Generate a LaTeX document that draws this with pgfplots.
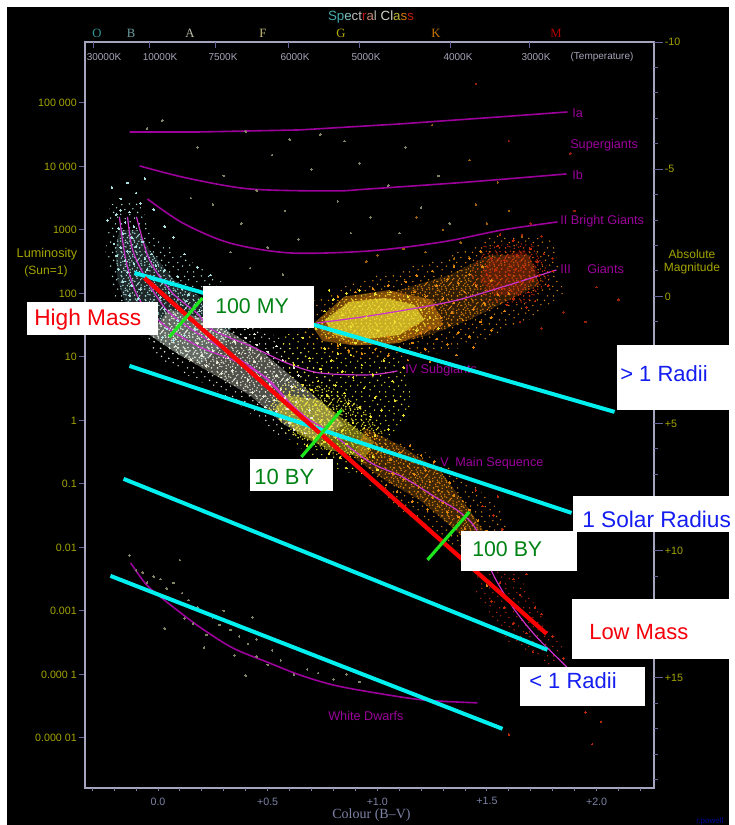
\documentclass[border=0pt]{standalone}
\usepackage{fontspec}
\setmainfont{Liberation Sans}
\newfontfamily\serif{Liberation Serif}
\usepackage{pgfplots}
\usetikzlibrary{patterns}
\pgfplotsset{compat=1.18}
\definecolor{panel}{RGB}{0,0,0}
\definecolor{framegray}{RGB}{165,165,190}
\definecolor{tickblue}{RGB}{100,100,150}
\definecolor{ylab}{RGB}{165,165,0}
\definecolor{xlab}{RGB}{125,130,165}
\definecolor{templab}{RGB}{165,165,185}
\definecolor{branch}{RGB}{155,0,155}
\definecolor{msline}{RGB}{205,50,205}
\definecolor{cyanline}{RGB}{0,240,240}
\definecolor{redline}{RGB}{250,0,0}
\definecolor{greenline}{RGB}{30,230,30}
\definecolor{labgreen}{RGB}{0,130,20}
\definecolor{labblue}{RGB}{20,30,240}
\definecolor{labred}{RGB}{245,0,10}
\definecolor{hotstar}{RGB}{170,225,225}
\definecolor{whitestar}{RGB}{232,232,215}
\definecolor{yelstar}{RGB}{235,225,50}
\definecolor{orstar}{RGB}{225,135,15}
\definecolor{redstar}{RGB}{190,40,10}
\definecolor{dimstar}{RGB}{130,130,100}
% stipple for the star clouds
\pgfdeclarepatternformonly{speckle}{\pgfpointorigin}{\pgfqpoint{18pt}{18pt}}{\pgfqpoint{18pt}{18pt}}{
  \foreach \x/\y in {1.2/0.8,4.6/1.7,7.9/0.5,11.3/1.4,15.2/0.9,2.8/3.6,6.1/4.3,9.7/3.2,13.4/3.9,16.9/3.1,0.6/6.2,4.2/6.8,7.6/6.1,11.0/6.6,14.7/6.0,2.3/9.1,5.8/8.9,9.2/9.4,12.7/8.8,16.4/9.3,1.0/11.6,4.4/12.0,8.0/11.5,11.5/12.1,15.0/11.4,2.9/14.3,6.4/14.8,9.8/14.1,13.3/14.6,17.0/14.2,0.9/16.7,4.9/16.9,8.2/16.4,11.9/17.0,15.5/16.6,3.1/2.0,12.9/2.0,6.9/10.2,14.2/10.6,10.4/8.0,1.9/13.0,16.3/7.4,7.2/13.0,13.0/16.0,5.4/5.4}{
    \pgfpathcircle{\pgfpoint{\x pt}{\y pt}}{0.6pt}
  }
  \pgfusepath{fill}
}
\pgfdeclarepatternformonly{sparse}{\pgfpointorigin}{\pgfqpoint{18pt}{18pt}}{\pgfqpoint{18pt}{18pt}}{
  \foreach \x/\y in {1.2/0.8,7.9/2.5,15.2/0.9,4.1/4.9,11.3/5.4,16.9/6.1,0.6/8.2,7.6/8.1,13.7/9.8,3.8/12.0,10.0/12.6,16.0/13.4,1.4/15.9,7.3/16.4,12.9/16.0}{
    \pgfpathcircle{\pgfpoint{\x pt}{\y pt}}{0.6pt}
  }
  \pgfusepath{fill}
}
\pgfplotsset{
  base/.style={scale only axis,width=426.75pt,height=559.5pt,at={(63.75pt,27.75pt)},anchor=south west,
    xmin=-0.333,xmax=2.262},
  stars/.style={only marks,mark=*,mark size=0.6pt,color=#1,mark options={solid,line width=0pt}},
  cloud/.style={draw=none,fill=#1},
  dense/.style={draw=none,pattern=speckle,pattern color=#1},
  loose/.style={draw=none,pattern=sparse,pattern color=#1},
}
\newcommand{\lab}[4]{\node[anchor=west,inner sep=0pt,text=#1,font=\fontsize{#2}{#2}\selectfont] at (#3) {#4};}
\begin{document}
\begin{tikzpicture}
\path[use as bounding box,fill=white] (0,0) rectangle (551.25pt,618.75pt);
\fill[panel] (5.25pt,0) rectangle (546.75pt,613.5pt);

% main axis: log10 luminosity against B-V
\begin{axis}[base,ymin=-5.79,ymax=5.96,
  axis line style={framegray,line width=0.8pt},
  ytick={-5,-4,-3,-2,-1,0,1,2,3,4,5},
  yticklabels={0.000 01,0.000 1,0.001,0.01,0.1,1,10,100,1000,10 000,100 000},
  ytick pos=left,tick align=outside,major tick length=4.5pt,
  ytick style={tickblue,line width=0.7pt},
  yticklabel style={text=ylab,font=\fontsize{8}{8}\selectfont,inner sep=1.5pt},
  xtick=\empty]
% outskirts of the star clouds
\addplot[loose=hotstar] coordinates {(-0.22,3.4)(-0.1,3.5)(-0.02,2.95)(0.1,2.6)(0.25,2.3)(0.35,2.0)(0.5,1.7)(0.3,1.0)(0.05,0.95)(-0.1,1.4)(-0.2,1.9)(-0.24,2.6)} --cycle;
\addplot[loose=whitestar] coordinates {(0.05,1.9)(0.25,1.85)(0.45,1.5)(0.65,1.1)(0.8,0.6)(0.95,0.1)(0.75,-0.45)(0.55,-0.25)(0.35,0.3)(0.2,0.6)(0.05,0.85)(-0.05,1.2)} --cycle;
\addplot[loose=yelstar] coordinates {(0.55,1.3)(0.7,1.5)(0.85,1.3)(1.1,1.0)(1.15,0.5)(1.15,0.1)(1.05,-0.3)(1.05,-0.7)(0.95,-0.9)(0.75,-0.7)(0.6,-0.3)(0.5,0.2)(0.6,0.7)} --cycle;
\addplot[loose=orstar] coordinates {(0.95,-0.1)(1.25,-0.55)(1.45,-1.05)(1.58,-1.5)(1.62,-2.3)(1.45,-2.3)(1.3,-1.85)(1.1,-1.4)(0.95,-1.0)} --cycle;
\addplot[loose=orstar] coordinates {(0.65,1.2)(0.7,1.9)(0.95,2.25)(1.3,2.55)(1.55,2.95)(1.8,2.85)(1.85,2.0)(1.7,1.6)(1.45,1.2)(1.2,1.0)(0.9,0.95)} --cycle;
\addplot[loose=redstar] coordinates {(1.45,-1.9)(1.6,-1.9)(1.68,-2.7)(1.85,-3.6)(1.8,-3.9)(1.6,-3.5)(1.45,-2.7)} --cycle;
% dense parts
\addplot[cloud=hotstar,fill opacity=0.18] coordinates {(-0.176,3.0)(-0.093,3.0)(-0.039,2.685)(0.075,2.213)(0.212,1.898)(0.349,1.583)(0.3,1.2)(0.2,0.9)(0.098,1.031)(-0.039,1.346)(-0.139,1.740)(-0.185,2.213)(-0.194,2.7)} --cycle;
\addplot[dense=hotstar] coordinates {(-0.176,3.0)(-0.093,3.0)(-0.039,2.685)(0.075,2.213)(0.212,1.898)(0.349,1.583)(0.3,1.2)(0.2,0.9)(0.098,1.031)(-0.039,1.346)(-0.139,1.740)(-0.185,2.213)(-0.194,2.7)} --cycle;
\addplot[cloud=whitestar,fill opacity=0.35] coordinates {(0.05,1.75)(0.212,1.6)(0.349,1.35)(0.486,1.05)(0.600,0.717)(0.736,0.323)(0.850,-0.071)(0.714,-0.307)(0.577,-0.071)(0.417,0.402)(0.258,0.717)(0.098,1.031)(-0.039,1.346)} --cycle;
\addplot[dense=whitestar] coordinates {(0.05,1.75)(0.212,1.6)(0.349,1.35)(0.486,1.05)(0.600,0.717)(0.736,0.323)(0.850,-0.071)(0.714,-0.307)(0.577,-0.071)(0.417,0.402)(0.258,0.717)(0.098,1.031)(-0.039,1.346)} --cycle;
\addplot[cloud=yelstar,fill opacity=0.45] coordinates {(0.577,0.402)(0.736,0.323)(0.850,0.008)(0.987,-0.339)(0.941,-0.591)(0.782,-0.465)(0.645,-0.228)(0.531,0.165)} --cycle;
\addplot[dense=yelstar] coordinates {(0.55,0.55)(0.78,0.55)(0.95,0.15)(1.05,-0.3)(1.0,-0.65)(0.8,-0.55)(0.62,-0.25)(0.5,0.2)} --cycle;
\addplot[cloud=orstar,fill opacity=0.28] coordinates {(0.941,-0.118)(1.101,-0.386)(1.284,-0.780)(1.420,-1.409)(1.512,-1.881)(1.443,-2.008)(1.329,-1.646)(1.193,-1.252)(1.033,-0.937)(0.896,-0.591)} --cycle;
\addplot[dense=orstar] coordinates {(0.941,-0.118)(1.101,-0.386)(1.284,-0.780)(1.420,-1.409)(1.512,-1.881)(1.443,-2.008)(1.329,-1.646)(1.193,-1.252)(1.033,-0.937)(0.896,-0.591)} --cycle;
\addplot[cloud=orstar,fill opacity=0.22] coordinates {(0.736,1.425)(0.873,1.898)(1.101,2.055)(1.329,2.291)(1.512,2.606)(1.694,2.606)(1.739,2.134)(1.603,1.898)(1.420,1.583)(1.238,1.346)(1.056,1.189)(0.873,1.189)} --cycle;
\addplot[dense=orstar] coordinates {(0.736,1.425)(0.873,1.898)(1.101,2.055)(1.329,2.291)(1.512,2.606)(1.694,2.606)(1.739,2.134)(1.603,1.898)(1.420,1.583)(1.238,1.346)(1.056,1.189)(0.873,1.189)} --cycle;
\addplot[cloud=redstar,fill opacity=0.3] coordinates {(1.512,2.528)(1.671,2.685)(1.739,2.291)(1.648,1.976)(1.534,1.976)(1.466,2.213)} --cycle;
\addplot[dense=redstar] coordinates {(1.48,2.75)(1.7,2.8)(1.8,2.3)(1.7,1.85)(1.5,1.85)(1.42,2.25)} --cycle;
\addplot[cloud=orstar,fill opacity=0.5] coordinates {(0.7,1.5)(0.85,1.95)(1.05,2.05)(1.25,1.9)(1.3,1.5)(1.1,1.22)(0.9,1.18)(0.75,1.25)} --cycle;
\addplot[cloud=yelstar,fill opacity=0.65] coordinates {(0.759,1.583)(0.873,1.866)(1.033,1.929)(1.170,1.819)(1.215,1.583)(1.101,1.346)(0.919,1.268)(0.805,1.346)} --cycle;
\addplot[dense=yelstar] coordinates {(0.72,1.55)(0.85,1.95)(1.05,2.02)(1.24,1.85)(1.28,1.55)(1.12,1.28)(0.9,1.2)(0.76,1.3)} --cycle;
% scattered field stars
\addplot[stars=dimstar] coordinates {(-0.21,3.67)(-0.05,4.6)(0.02,4.72)(0.25,3.4)(0.3,3.85)(0.38,3.1)(0.45,3.62)(0.52,4.18)(0.58,3.3)(0.64,2.85)(0.7,3.95)(0.74,4.5)(0.82,3.45)(0.88,2.95)(0.92,4.05)(0.97,3.2)(0.33,2.65)(0.42,2.4)(0.5,2.72)(0.57,2.3)(0.6,4.42)(0.15,3.5)(0.18,4.3)(1.05,3.7)(1.1,2.95)(1.13,4.3)(1.2,3.35)(1.28,3.85)(1.33,3.1)(0.4,4.55)(0.85,4.4)(0.47,1.95)(0.55,1.55)(0.62,1.78)(0.43,-3.1)(0.1,-2.2)};
\addplot[stars=orstar!70!black] coordinates {(1.0,2.6)(1.12,2.7)(1.22,2.65)(1.3,3.0)(1.38,2.8)(1.45,3.4)(1.5,3.1)(1.55,3.75)(1.18,3.2)(1.42,4.1)(1.35,2.55)(0.95,2.5)(1.6,3.3)(1.25,4.65)(1.66,2.9)};
\addplot[stars=redstar!80!black] coordinates {(1.75,2.9)(1.8,2.55)(1.85,1.7)(1.95,1.55)(1.65,1.55)(1.7,3.1)(1.88,4.2)(2.1,1.9)(1.6,4.4)(1.75,1.45)(1.45,5.3)(1.9,3.3)(2.0,2.1)};
% upper main sequence, blue white
\addplot[stars=hotstar] coordinates {(-0.21,3.67)(-0.14,3.74)(-0.10,3.58)(-0.06,3.81)(-0.17,3.49)(-0.08,3.42)(-0.23,3.15)(-0.02,3.32)(0.03,3.05)(0.07,2.88)(0.12,2.62)(0.18,2.41)(0.24,2.29)(0.28,2.09)
(-0.19,3.24)(-0.17,3.31)(-0.15,3.12)(-0.13,3.28)(-0.11,3.05)(-0.18,3.02)(-0.16,2.94)(-0.12,2.88)(-0.20,2.78)(-0.17,2.72)(-0.14,2.66)(-0.10,2.74)(-0.07,2.81)(-0.19,2.59)(-0.15,2.52)(-0.11,2.47)(-0.06,2.55)(-0.03,2.62)(-0.18,2.38)(-0.14,2.33)(-0.09,2.29)(-0.05,2.37)(-0.01,2.44)(0.03,2.36)(-0.16,2.18)(-0.12,2.12)(-0.08,2.06)(-0.03,2.14)(0.02,2.21)(0.06,2.16)(0.09,2.26)(-0.13,1.97)(-0.09,1.92)(-0.04,1.86)(0.01,1.94)(0.05,2.01)(0.11,2.07)(0.14,1.98)
(-0.12,1.79)(-0.07,1.73)(-0.02,1.68)(0.03,1.75)(0.08,1.82)(0.13,1.88)(0.18,1.84)(0.22,1.93)(-0.06,1.56)(-0.01,1.51)(0.04,1.44)(0.09,1.57)(0.14,1.66)(0.19,1.72)(0.25,1.76)(0.29,1.81)(0.02,1.31)(0.07,1.26)(0.12,1.34)(0.17,1.43)(0.22,1.52)(0.27,1.61)};
% main sequence, white
\addplot[stars=whitestar] coordinates {(0.08,1.17)(0.13,1.09)(0.18,1.21)(0.23,1.28)(0.28,1.39)(0.33,1.48)(0.37,1.55)(0.41,1.46)(0.44,1.36)(0.15,0.96)(0.2,1.02)(0.25,1.1)(0.3,1.16)(0.35,1.24)(0.4,1.3)(0.45,1.19)(0.5,1.08)(0.54,1.17)(0.22,0.86)(0.27,0.91)(0.32,0.98)(0.37,1.06)(0.42,1.12)(0.47,0.98)(0.52,0.89)(0.57,0.95)(0.62,0.83)
(0.29,0.74)(0.34,0.79)(0.39,0.86)(0.44,0.92)(0.49,0.76)(0.54,0.7)(0.59,0.64)(0.64,0.71)(0.36,0.59)(0.41,0.64)(0.46,0.69)(0.51,0.57)(0.56,0.49)(0.61,0.53)(0.66,0.47)(0.43,0.44)(0.48,0.38)(0.53,0.32)(0.58,0.36)(0.63,0.29)(0.68,0.34)(0.49,0.21)(0.54,0.14)(0.59,0.18)(0.64,0.11)(0.69,0.16)(0.56,0.03)(0.6,-0.04)(0.65,-0.01)(0.7,0.04)(0.62,-0.14)(0.67,-0.2)(0.72,-0.12)};
% main sequence and subgiants, yellow
\addplot[stars=yelstar] coordinates {(0.6,0.41)(0.66,0.56)(0.7,0.48)(0.73,0.62)(0.77,0.39)(0.81,0.55)(0.85,0.43)(0.89,0.68)(0.94,0.51)(0.99,0.36)(0.74,0.81)(0.79,0.94)(0.84,0.77)(0.88,1.03)(0.93,0.87)(0.98,0.72)(1.03,0.94)(1.07,0.62)(1.12,0.83)(0.76,1.13)(0.82,1.05)(0.69,0.98)(0.62,0.88)(0.72,0.25)(0.77,0.18)(0.82,0.12)(0.87,0.27)(0.92,0.2)(0.97,0.06)(1.02,0.16)(1.08,0.31)(0.74,-0.02)(0.79,-0.09)(0.84,-0.16)(0.89,-0.04)(0.94,-0.12)(0.99,-0.24)(0.71,-0.27)(0.76,-0.34)(0.81,-0.27)(0.86,-0.37)(0.91,-0.32)(0.96,-0.44)(0.78,-0.52)(0.83,-0.58)(0.88,-0.5)(0.93,-0.63)(0.98,-0.57)(1.03,-0.49)(0.68,-0.4)(1.05,-0.14)(1.12,0.08)(0.86,-0.75)(1.0,-0.78)(0.93,-0.82)};
% lower main sequence, orange
\addplot[stars=orstar] coordinates {(1.02,-0.42)(1.06,-0.62)(1.1,-0.51)(1.14,-0.72)(1.07,-0.84)(1.12,-0.93)(1.17,-0.85)(1.22,-0.79)(1.19,-1.05)(1.24,-0.97)(1.28,-1.1)(1.33,-0.98)(1.25,-1.21)(1.3,-1.3)(1.35,-1.18)(1.39,-1.27)(1.32,-1.45)(1.37,-1.52)(1.42,-1.41)(1.46,-1.58)(1.4,-1.7)(1.45,-1.82)(1.5,-1.74)(1.15,-0.4)(1.2,-0.55)(1.26,-0.65)(1.04,-1.02)(1.09,-1.12)(1.16,-1.28)(1.23,-1.4)(1.46,-2.42)(1.5,-2.6)(1.42,-2.3)(1.55,-2.25)};
\addplot[stars=redstar] coordinates {(1.48,-1.35)(1.53,-1.5)(1.57,-1.72)(1.56,-1.95)(1.6,-2.2)(1.48,-2.0)(1.56,-2.55)(1.62,-2.5)(1.52,-2.85)(1.58,-2.95)(1.65,-2.75)(1.68,-2.42)(1.72,-2.95)(1.62,-3.2)(1.68,-3.35)(1.75,-3.05)(1.8,-3.4)(1.71,-3.65)(1.85,-3.75)(1.78,-3.95)(1.92,-4.05)(1.95,-4.6)(1.98,-5.1)(2.02,-4.75)(1.6,-4.95)(1.72,-4.4)(1.45,-1.1)(1.55,-1.2)};
% red clump and giants
\addplot[stars=orstar] coordinates {(0.78,1.3)(0.82,1.18)(0.87,1.1)(0.93,1.05)(0.99,1.12)(1.05,1.02)(1.1,1.15)(1.16,1.22)(1.22,1.12)(1.27,1.28)(1.32,1.2)(1.37,1.38)(1.42,1.32)(1.47,1.55)(1.24,1.46)(1.29,1.62)(1.34,1.7)(1.39,1.58)(1.44,1.75)(1.49,1.84)(1.25,1.78)(1.3,1.92)(1.35,1.85)(1.4,2.02)(1.45,2.12)(1.17,2.02)(1.22,1.95)(1.27,2.12)(1.32,2.22)(1.37,2.16)(1.42,2.3)(1.13,2.18)(1.05,2.12)(0.98,2.08)(0.9,2.02)(0.82,1.95)(1.18,2.28)(1.25,2.35)(1.48,2.42)(1.52,2.2)(1.55,1.98)(1.58,1.72)(1.52,1.62)(1.35,2.42)(1.42,2.55)(1.47,2.66)(1.2,1.38)(1.05,1.32)(1.33,1.5)(1.15,1.45)(1.6,2.0)(1.52,1.42)(1.36,1.03)(1.44,1.15)(1.14,0.95)(1.24,0.92)};
\addplot[stars=redstar] coordinates {(1.55,2.75)(1.58,2.52)(1.62,2.83)(1.64,2.6)(1.67,2.42)(1.7,2.7)(1.73,2.5)(1.6,2.3)(1.65,2.18)(1.69,2.02)(1.74,2.28)(1.78,2.12)(1.57,2.08)(1.62,1.92)(1.68,1.78)(1.72,1.88)(1.56,2.93)(1.66,2.92)(1.76,2.62)(1.8,2.35)(1.52,2.55)(1.5,2.3)(1.59,1.82)(1.54,2.38)(1.63,2.38)(1.71,2.22)};
\addplot[stars=yelstar] coordinates {(0.72,1.45)(0.76,1.72)(0.8,1.9)(0.86,2.0)(0.92,2.05)(0.99,2.0)(1.06,2.02)(1.14,1.95)(1.2,1.74)(1.24,1.62)(1.18,1.42)(1.1,1.28)(1.0,1.22)(0.9,1.22)(0.83,1.2)(0.7,1.75)(0.66,1.3)(0.78,2.05)(1.28,1.45)(0.88,1.48)(0.95,1.62)(1.02,1.75)(1.08,1.55)(1.0,1.42)(0.84,1.66)(0.92,1.8)(1.14,1.66)};
% white dwarfs
\addplot[stars=dimstar] coordinates {(-0.13,-2.13)(-0.1,-2.36)(-0.07,-2.4)(-0.05,-2.55)(-0.02,-2.46)(0.01,-2.5)(0.04,-2.65)(0.07,-2.56)(0.11,-2.72)(0.14,-2.83)(0.18,-2.95)(0.21,-3.02)(0.25,-3.1)(0.28,-3.22)(0.22,-3.38)(0.3,-3.0)(0.33,-3.3)(0.37,-3.4)(0.41,-3.52)(0.35,-3.7)(0.45,-3.72)(0.5,-3.85)(0.56,-3.78)(0.62,-4.0)(0.68,-3.92)(0.73,-3.98)(0.8,-4.08)(0.86,-4.0)(0.03,-3.28)(0.21,-3.58)(0.12,-3.12)(0.16,-3.2)(0.4,-4.02)(0.52,-3.62)(0.45,-3.45)(0.92,-4.12)(1.05,-4.15)};
% luminosity classes and white dwarf track
\addplot[branch,line width=1.2pt] coordinates {(-0.13,4.543)(0.189,4.543)(0.645,4.575)(1.101,4.669)(1.557,4.78)(1.867,4.858)};
\addplot[branch,line width=1.2pt,smooth] coordinates {(-0.084,4.008)(0.13,3.819)(0.417,3.646)(0.796,3.614)(0.964,3.646)(1.42,3.756)(1.863,3.882)};
\addplot[branch,line width=1.2pt,smooth] coordinates {(-0.048,3.488)(0.112,3.11)(0.326,2.795)(0.6,2.638)(0.964,2.669)(1.297,2.811)(1.571,3.0)(1.822,3.126)};
\addplot[msline,line width=0.9pt,smooth] coordinates {(0.723,1.535)(0.964,1.646)(1.329,1.866)(1.571,2.102)(1.817,2.37)};
\addplot[msline,line width=0.9pt,smooth] coordinates {(-0.176,3.205)(-0.144,2.48)(-0.084,1.898)(0.039,1.472)(0.189,1.157)(0.34,0.953)(0.495,0.669)(0.645,0.118)(0.782,-0.181)(0.964,-0.654)(1.115,-0.89)(1.27,-1.22)(1.375,-1.441)(1.452,-1.724)(1.525,-2.402)(1.617,-2.937)(1.726,-3.409)(1.876,-3.929)(2.013,-4.48)};
\addplot[msline,line width=0.9pt,smooth] coordinates {(-0.139,3.205)(-0.116,2.685)(-0.052,2.213)(0.039,1.74)(0.157,1.425)(0.28,1.157)(0.463,0.748)(0.6,0.276)(0.7,-0.024)};
\addplot[msline,line width=0.9pt,smooth] coordinates {(-0.098,3.205)(-0.039,2.528)(0.066,2.008)(0.176,1.693)(0.249,1.425)(0.431,1.157)(0.586,0.906)(0.736,0.748)(0.964,0.717)(1.092,0.78)};
\addplot[branch,line width=1.2pt,smooth] coordinates {(-0.125,-2.244)(-0.052,-2.591)(0.039,-2.858)(0.189,-3.252)(0.34,-3.583)(0.495,-3.803)(0.645,-4.008)(0.796,-4.165)(0.964,-4.276)(1.206,-4.402)(1.457,-4.449)};
\end{axis}

% bottom axis: B-V colour
\begin{axis}[base,ymin=0,ymax=1,axis line style={draw=none},ytick=\empty,
  xtick={0,0.5,1,1.5,2},xticklabels={0.0,+0.5,+1.0,+1.5,+2.0},
  minor xtick={-0.3,-0.2,-0.1,0.1,0.2,0.3,0.4,0.6,0.7,0.8,0.9,1.1,1.2,1.3,1.4,1.6,1.7,1.8,1.9,2.1,2.2},
  xtick pos=bottom,tick align=outside,major tick length=2.5pt,minor tick length=2.5pt,
  every tick/.style={xlab,line width=0.7pt},
  xticklabel style={text=xlab,font=\fontsize{8}{8}\selectfont,inner sep=1pt,yshift=-3.5pt},
  xlabel={\serif Colour (B–V)},
  xlabel style={at={(axis description cs:0.5035,-0.036)},anchor=center,text=xlab,font=\fontsize{10.5}{10.5}\selectfont}]
\end{axis}

% right axis: absolute magnitude
\begin{axis}[base,ymin=-10,ymax=19.33,y dir=reverse,axis line style={draw=none},xtick=\empty,
  ytick={-10,-5,0,5,10,15},yticklabels={-10,-5,0,+5,+10,+15},
  minor ytick={-9,-8,-7,-6,-4,-3,-2,-1,1,2,3,4,6,7,8,9,11,12,13,14,16,17,18,19},
  ytick pos=right,tick align=outside,major tick length=6.5pt,minor tick length=3pt,
  every tick/.style={tickblue,line width=0.7pt},
  yticklabel style={text=ylab,font=\fontsize{8}{8}\selectfont,inner sep=1.5pt}]
\end{axis}

% top axis: temperature ticks of the spectral scale
\begin{axis}[base,ymin=0,ymax=1,axis line style={draw=none},ytick=\empty,
  xtick={-0.294,-0.039,0.262,0.595,0.919,1.334,1.694},xticklabels={},
  xtick pos=top,tick align=inside,major tick length=4.5pt,
  every tick/.style={tickblue,line width=0.7pt}]
\end{axis}

\begin{scope}[shift={(0,618.75pt)},x=0.75pt,y=-0.75pt]
\node[text=ylab,font=\fontsize{9.5}{9.5}\selectfont,inner sep=0pt] at (47,254) {Luminosity};
\node[text=ylab,font=\fontsize{9}{9}\selectfont,inner sep=0pt] at (46,271) {(Sun=1)};
\node[text=ylab,font=\fontsize{9}{9}\selectfont,inner sep=0pt] at (692,254) {Absolute};
\node[text=ylab,font=\fontsize{9}{9}\selectfont,inner sep=0pt] at (692,268) {Magnitude};
\node[inner sep=0pt,font=\fontsize{10}{10}\selectfont] at (371,17) {\textcolor[RGB]{70,170,170}{Sp}\textcolor[RGB]{130,190,190}{e}\textcolor[RGB]{190,190,190}{ct}\textcolor[RGB]{190,20,20}{r}\textcolor[RGB]{190,130,110}{a}\textcolor[RGB]{180,180,170}{l }\textcolor[RGB]{210,210,200}{Cl}\textcolor[RGB]{190,180,60}{a}\textcolor[RGB]{210,120,10}{s}\textcolor[RGB]{190,30,10}{s}};
\foreach \c/\px/\col in {O/97/{50,150,150},B/131/{110,160,160},A/190/{190,190,170},F/263/{200,190,120},G/341/{180,170,0},K/436/{200,120,0},M/556/{180,0,0}}{
  \node[inner sep=0pt,font=\serif\fontsize{9.5}{9.5}\selectfont] at (\px,33) {\textcolor[RGB]{\col}{\c}};
}
\foreach \t/\px in {30000K/104,10000K/160,7500K/223,6000K/295,5000K/366,4000K/458,3000K/536,(Temperature)/602}{
  \node[inner sep=0pt,text=templab,font=\fontsize{7.5}{7.5}\selectfont] at (\px,57) {\t};
}
\lab{branch}{9.5}{572,113}{Ia}
\lab{branch}{9.5}{570,145}{Supergiants}
\lab{branch}{9.5}{572,175}{Ib}
\lab{branch}{9.5}{560,221}{II Bright Giants}
\lab{branch}{9.5}{560,269}{III}
\lab{branch}{9.5}{587,269}{Giants}
\lab{branch}{9.5}{405,370}{IV Subgiants}
\lab{branch}{9.5}{440,463}{V\hspace{5pt}Main Sequence}
\lab{branch}{9.5}{328,716}{White Dwarfs}
\lab{blue!60!black}{6}{696,821}{r.powell}
\end{scope}

% radius, mass and age lines laid over the diagram
\begin{axis}[base,ymin=-5.79,ymax=5.96,hide axis]
\addplot[cyanline,line width=3pt] coordinates {(-0.107,2.323)(2.082,0.134)};
\addplot[cyanline,line width=3pt] coordinates {(-0.13,0.858)(1.886,-1.457)};
\addplot[cyanline,line width=3pt] coordinates {(-0.157,-0.921)(1.776,-3.614)};
\addplot[cyanline,line width=3pt] coordinates {(-0.217,-2.449)(1.571,-4.858)};
\addplot[redline,line width=3.2pt] coordinates {(-0.062,2.244)(1.772,-3.362)};
\addplot[greenline,line width=2.4pt] coordinates {(0.052,1.315)(0.203,1.929)};
\addplot[greenline,line width=2.4pt] coordinates {(0.654,-0.575)(0.837,0.165)};
\addplot[greenline,line width=2.4pt] coordinates {(1.229,-2.197)(1.42,-1.441)};
\end{axis}

\begin{scope}[shift={(0,618.75pt)},x=0.75pt,y=-0.75pt]
\fill[white] (27,302) rectangle (158,335);
\fill[white] (203,286) rectangle (314,328);
\fill[white] (250,459) rectangle (333,491);
\fill[white] (461,531) rectangle (577,571);
\fill[white] (617,345) rectangle (729,410);
\fill[white] (573,496) rectangle (735,532);
\fill[white] (572,599) rectangle (729,659);
\fill[white] (520,667) rectangle (645,706);
\lab{labred}{17}{34,320}{High Mass}
\lab{labgreen}{16}{215,306}{100 MY}
\lab{labgreen}{16.5}{254,477}{10 BY}
\lab{labgreen}{16}{472,549}{100 BY}
\lab{labblue}{16.5}{620,374}{> 1 Radii}
\lab{labblue}{17}{582,519}{1 Solar Radius}
\lab{labred}{16.5}{589,632}{Low Mass}
\lab{labblue}{16.5}{529,681}{< 1 Radii}
\end{scope}
\end{tikzpicture}
\end{document}
